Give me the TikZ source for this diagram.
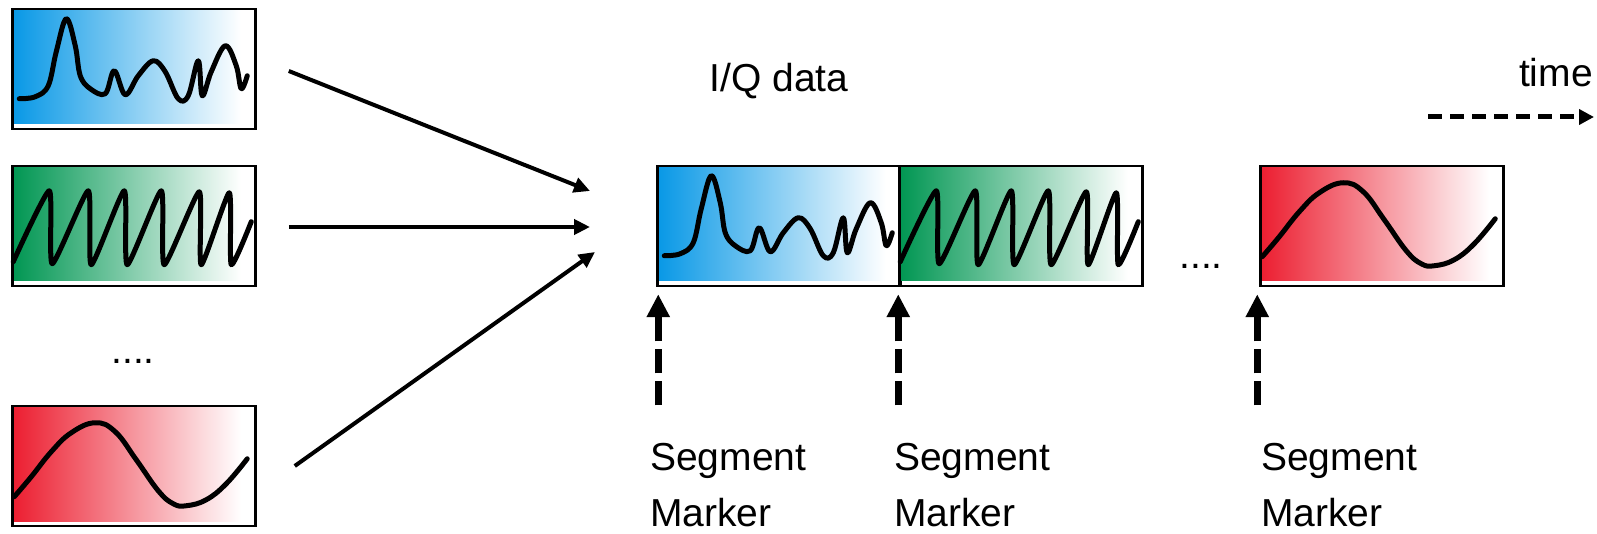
\documentclass[tikz,border=0pt]{standalone}
\usepackage{fontspec}
\setmainfont{Liberation Sans}
\usepackage{tikz}
\usetikzlibrary{shapes,arrows.meta,positioning}
\usepackage{xcolor}

\definecolor{sigblue}{RGB}{8,152,230}
\definecolor{siggreen}{RGB}{0,150,82}
\definecolor{sigred}{RGB}{236,30,48}

% colour fading to white a little before the right edge
\pgfdeclarehorizontalshading{fadeblue}{100bp}{color(0bp)=(sigblue); color(25bp)=(sigblue); color(72bp)=(white); color(100bp)=(white)}
\pgfdeclarehorizontalshading{fadegreen}{100bp}{color(0bp)=(siggreen); color(25bp)=(siggreen); color(72bp)=(white); color(100bp)=(white)}
\pgfdeclarehorizontalshading{fadered}{100bp}{color(0bp)=(sigred); color(25bp)=(sigred); color(72bp)=(white); color(100bp)=(white)}

% signal boxes and the curves inside them (curves measured from the box's north west corner)
\tikzset{
  sigbox/.style={rectangle, draw, line width=2.5pt, minimum width=243pt, minimum height=120pt, inner sep=0pt,
    path picture={\shade[shading=#1]
      ([shift={(1.5,1.5)}]path picture bounding box.north west) rectangle
      ([shift={(-1.5,-5)}]path picture bounding box.south east);}},
  wave/.style={line width=5pt, line join=round, line cap=round},
  bluewave/.pic={
    \draw[wave] plot[smooth, tension=0.6] coordinates {(8,91) (24,89) (37,78) (45,44) (55,11) (64,38) (69,68) (79,81) (94,86) (103,63) (114,87) (127,68) (142,53) (154,64) (167,91) (177,88) (187,53) (191,88) (200,64) (214,38) (225,58) (230,81) (236,68)};
  },
  greenwave/.pic={
    \draw[wave] plot[smooth, tension=0.35] coordinates {(2,97) (38,26) (41,99) (77,26) (80,100) (113,26) (116,100) (150,26) (153,100) (188,27) (190,100) (218,28) (220,100) (240,57)};
  },
  redwave/.pic={
    \draw[wave] plot[smooth, tension=0.7] coordinates {(3,92) (20,72) (40,47) (60,28) (84,18) (104,27) (125,55) (147,86) (162,99) (175,101) (195,95) (215,79) (236,54)};
  },
}

\begin{document}
\begin{tikzpicture}[x=1pt, y=-1pt]
\tikzstyle{feed}=[line width=4pt, -{Triangle[length=16pt,width=15pt]}]
\tikzstyle{markarrow}=[line width=7pt, dash pattern=on 24pt off 8pt, -{Triangle[length=23pt,width=22pt]}]
\tikzstyle{timearrow}=[line width=5pt, dash pattern=on 14pt off 8pt, -{Triangle[length=15pt,width=15pt]}]
\tikzstyle{lbl}=[font=\fontsize{39}{56}\selectfont, inner sep=0pt]

\useasboundingbox (0,0) rectangle (1597,534);

% single signals
\node[sigbox=fadeblue] (srcblue) at (134,69) {};
\node[sigbox=fadegreen] (srcgreen) at (134,226) {};
\node[sigbox=fadered] (srcred) at (134,466) {};
\pic at (srcblue.north west) {bluewave};
\pic at (srcgreen.north west) {greenwave};
\pic at (srcred.north west) {redwave};
\node[lbl, anchor=base] (dotsL) at (133,363) {....};

% recorded stream
\node[sigbox=fadeblue] (iqblue) at (779,226) {};
\node[sigbox=fadegreen] (iqgreen) at (1021,226) {};
\node[sigbox=fadered] (iqred) at (1382,226) {};
\pic at (iqblue.north west) {bluewave};
\pic at (iqgreen.north west) {greenwave};
\pic at (iqred.north west) {redwave};
\node[lbl, anchor=base] (dotsR) at (1201,269) {....};
\node[lbl, anchor=base] (iqlabel) at (779,92) {I/Q data};

\coordinate (joinA) at (590,191);
\coordinate (joinB) at (590,227);
\coordinate (joinC) at (595,252);
\draw[feed] ([shift={(32,2)}]srcblue.east) -- (joinA);
\draw[feed] ([shift={(32,1)}]srcgreen.east) -- (joinB);
\draw[feed] ([shift={(38,0)}]srcred.east) -- (joinC);

% segment markers
\node[lbl, align=left, anchor=base west] (mkA) at (650,526) {Segment\\Marker};
\node[lbl, align=left, anchor=base west] (mkB) at (894,526) {Segment\\Marker};
\node[lbl, align=left, anchor=base west] (mkC) at (1261,526) {Segment\\Marker};
\draw[markarrow] ([shift={(2,118)}]iqblue.south west) -- ([shift={(2,7)}]iqblue.south west);
\draw[markarrow] ([shift={(0,118)}]iqgreen.south west) -- ([shift={(0,7)}]iqgreen.south west);
\draw[markarrow] ([shift={(-2,118)}]iqred.south west) -- ([shift={(-2,7)}]iqred.south west);

% time axis
\node[lbl, anchor=base east] (timelabel) at (1593,87) {time};
\coordinate (tstart) at (1428,117);
\coordinate (tend) at (1594,117);
\draw[timearrow] (tstart) -- (tend);
\end{tikzpicture}
\end{document}
